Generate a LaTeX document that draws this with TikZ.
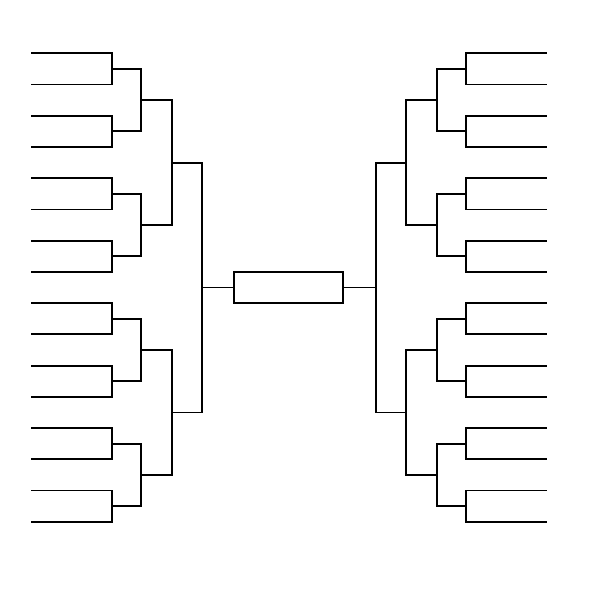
\documentclass[tikz,border=0pt]{standalone}
\usetikzlibrary{positioning}
\tikzset{
  line/.style={line width=1.9pt, line join=miter}, % every bracket line
  final/.style={draw, line width=1.9pt, minimum width=109pt, minimum height=30.6pt, inner sep=0pt}, % box of the winner
}
\newcommand{\gap}{31.23} % distance between two slots of the first round

\begin{document}
\begin{tikzpicture}[x=1pt, y=-1pt]
  \useasboundingbox (0,0) rectangle (600,600);
  \node[final] (champ) at (288.8,287.5) {};
  % l = left half, r = right half
  \foreach \s/\d in {l/-1, r/1} {
    % round / start x / end x / step / first offset
    \foreach \r/\xa/\xb/\m/\off in {1/257.8/177.1/1/0, 2/177.1/147.8/2/0.5, 3/147.8/117.1/4/1.5, 4/117.1/87.1/8/3.5} {
      \pgfmathtruncatemacro{\n}{16/\m}
      \foreach \k in {1,...,\n} {
        \pgfmathsetmacro{\y}{53.3+\gap*(\m*(\k-1)+\off)}
        \coordinate (\s\r-\k-in) at (288.8+\d*\xa, \y);
        \coordinate (\s\r-\k) at (288.8+\d*\xb, \y);
      }
      \pgfmathtruncatemacro{\h}{\n/2}
      \foreach \p in {1,...,\h} {
        \pgfmathtruncatemacro{\a}{2*\p-1}
        \pgfmathtruncatemacro{\b}{2*\p}
        \draw[line] (\s\r-\a-in) -- (\s\r-\a) -- (\s\r-\b) -- (\s\r-\b-in);
      }
    }
    \coordinate (\s5) at (288.8+\d*87.1, 287.5);
    \draw[line] (\s5) -- (champ);
  }
\end{tikzpicture}
\end{document}
